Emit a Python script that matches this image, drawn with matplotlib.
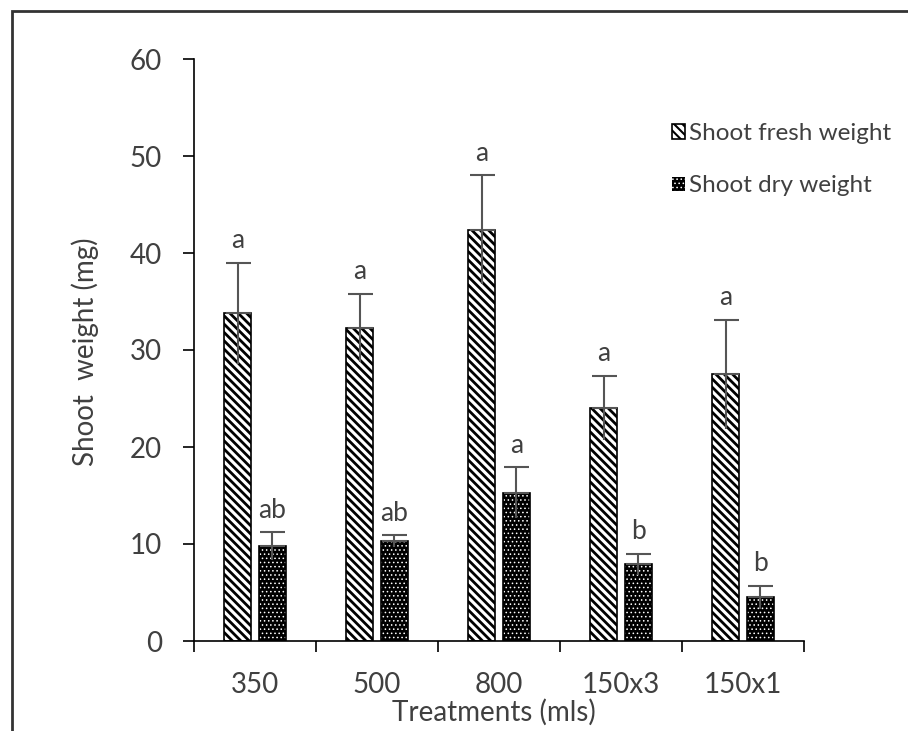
import matplotlib
matplotlib.use("Agg")
import matplotlib.pyplot as plt
import numpy as np
from matplotlib.patches import Rectangle

treatments = ["350", "500", "800", "150x3", "150x1"]
fresh = [33.8, 32.3, 42.4, 24.0, 27.5]
fresh_err = [5.2, 3.5, 5.6, 3.3, 5.6]
dry = [9.8, 10.3, 15.3, 7.9, 4.5]
dry_err = [1.4, 0.6, 2.6, 1.1, 1.2]
fresh_letters = ["a", "a", "a", "a", "a"]
dry_letters = ["ab", "ab", "a", "b", "b"]

plt.rcParams['font.family'] = ['Lato', 'DejaVu Sans']

W, H = 908, 731
fig = plt.figure(figsize=(W/100, H/100), dpi=100)
ax = fig.add_axes([194/W, 1-641/H, (804-194)/W, (641-59)/H])

x = np.arange(len(treatments))
bw = 0.225
off = 0.143
tc = '#404040'

plt.rcParams['hatch.linewidth'] = 2.0
b1 = ax.bar(x - off, fresh, bw, facecolor='white', edgecolor='black', hatch='\\\\\\\\', linewidth=1.2, zorder=2)
plt.rcParams['hatch.linewidth'] = 0.6
b2 = ax.bar(x + off, dry, bw, facecolor='black', edgecolor='white', hatch='....', linewidth=0, zorder=2)
ax.bar(x + off, dry, bw, fill=False, edgecolor='black', linewidth=1.2, zorder=3)

ecol = '#555555'
for xs, vals, errs in [(x - off, fresh, fresh_err), (x + off, dry, dry_err)]:
    ax.errorbar(xs, vals, yerr=[np.zeros(len(vals)), errs], fmt='none', ecolor=ecol,
                elinewidth=1.5, capsize=9, capthick=1.5, zorder=4)
    ax.errorbar(xs, vals, yerr=[errs, np.zeros(len(vals))], fmt='none', ecolor=ecol,
                elinewidth=1.5, capsize=0, zorder=4)

for xi, v, e, t in zip(x - off, fresh, fresh_err, fresh_letters):
    ax.annotate(t, (xi, v + e), xytext=(0, 7), textcoords='offset points', ha='center', va='bottom',
                fontsize=19, color=tc)
for xi, v, e, t in zip(x + off, dry, dry_err, dry_letters):
    ax.annotate(t, (xi, v + e), xytext=(0, 7), textcoords='offset points', ha='center', va='bottom',
                fontsize=19, color=tc)

ax.set_xlim(-0.5, len(treatments) - 0.5)
ax.set_ylim(0, 60)
ax.set_yticks(np.arange(0, 61, 10))
ax.set_xticks(np.arange(-0.5, len(treatments), 1.0))
ax.set_xticklabels([])
ax.set_xticks(x, minor=True)
ax.set_xticklabels(treatments, minor=True)
ax.tick_params(axis='x', which='major', direction='out', length=8, width=1.2, color='black')
ax.tick_params(axis='x', which='minor', length=0, pad=22, labelsize=20, labelcolor=tc)
ax.tick_params(axis='y', direction='out', length=8, width=1.2, pad=15, labelsize=20, labelcolor=tc)
for s in ['top', 'right']:
    ax.spines[s].set_visible(False)
for s in ['left', 'bottom']:
    ax.spines[s].set_linewidth(1.2)

fig.text(494/W, 1-712/H, "Treatments (mls)", ha='center', va='center', fontsize=20, color=tc)
fig.text(85/W, 1-352/H, "Shoot  weight (mg)", ha='center', va='center', rotation=90, fontsize=20, color=tc)

leg = fig.legend([b1, b2], ["Shoot fresh weight", "Shoot dry weight"], loc='upper left',
                 bbox_to_anchor=(650/W, 1-101/H), frameon=False, fontsize=17.5,
                 handlelength=0.55, handleheight=0.55, handletextpad=0.15, labelspacing=1.3)
for t in leg.get_texts():
    t.set_color(tc)
h0 = leg.legend_handles[0]
if hasattr(h0, 'set_hatch_linewidth'):
    h0.set_hatch_linewidth(1.5)
else:
    h0._hatch_linewidth = 1.5

fig.patches.append(Rectangle((12/W, -0.05), 1.1, 1-11/H + 0.05, transform=fig.transFigure,
                             fill=False, edgecolor='#333333', linewidth=2))

fig.savefig("out.png", dpi=100)
